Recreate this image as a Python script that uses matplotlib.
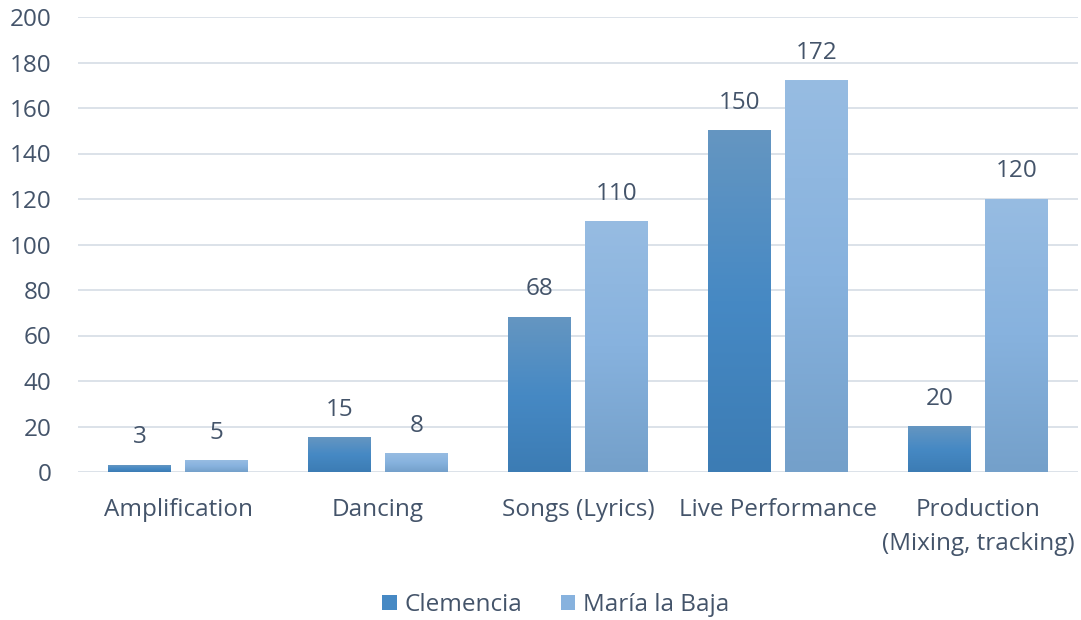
import numpy as np
import matplotlib.pyplot as plt
from matplotlib.colors import LinearSegmentedColormap
from matplotlib.patches import Patch

categories = ["Amplification", "Dancing", "Songs (Lyrics)", "Live Performance",
              "Production\n(Mixing, tracking)"]
clemencia = [3, 15, 68, 150, 20]
maria = [5, 8, 110, 172, 120]
series_names = ["Clemencia", "María la Baja"]

text_color = "#44546a"
grid_color = "#d9dfe7"
plt.rcParams['font.family'] = ['Open Sans', 'DejaVu Sans']
fs = 17.5

cmap_c = LinearSegmentedColormap.from_list("c", ["#3c7cb4", "#4689c4", "#6596c1"])
cmap_m = LinearSegmentedColormap.from_list("m", ["#74a0ca", "#87b2de", "#97bce2"])

fig = plt.figure(figsize=(10.81, 6.2), dpi=100)
ax = fig.add_axes([78 / 1081, 1 - 472 / 620, 1000 / 1081, 455 / 620])

x = np.arange(len(categories))
w = 0.315
off = 0.1925
grad = np.linspace(0, 1, 256).reshape(-1, 1)

for vals, sign, cmap in [(clemencia, -1, cmap_c), (maria, 1, cmap_m)]:
    bars = ax.bar(x + sign * off, vals, w, color="none", zorder=3)
    for b, v in zip(bars, vals):
        x0 = b.get_x()
        ax.imshow(grad, cmap=cmap, origin="lower", aspect="auto", zorder=3,
                  extent=(x0, x0 + b.get_width(), 0, b.get_height()))
        ax.text(b.get_x() + b.get_width() / 2, v + 7, str(v), ha="center", va="bottom",
                fontsize=fs, color=text_color, zorder=4)

ax.set_xlim(-0.5, len(categories) - 0.5)
ax.set_ylim(0, 200)
ax.set_yticks(np.arange(0, 201, 20))
ax.set_xticks(x)
ax.set_xticklabels(categories)
ax.grid(axis="y", color=grid_color, linewidth=1.3, zorder=0)
ax.set_axisbelow(True)
for s in ax.spines.values():
    s.set_visible(False)
ax.tick_params(axis="both", length=0, labelsize=fs, colors=text_color)
ax.tick_params(axis="y", pad=19)
ax.tick_params(axis="x", pad=19)
for lbl in ax.get_xticklabels():
    lbl.set_linespacing(1.55)

handles = [Patch(facecolor="#4689c4"), Patch(facecolor="#87b2de")]
fig.legend(handles, series_names, loc="center", bbox_to_anchor=(0.514, 1 - 605 / 620),
           ncol=2, frameon=False, fontsize=fs, labelcolor=text_color,
           handlelength=0.6, handleheight=0.6, handletextpad=0.3, columnspacing=1.6)

fig.savefig("out.png", dpi=100)
